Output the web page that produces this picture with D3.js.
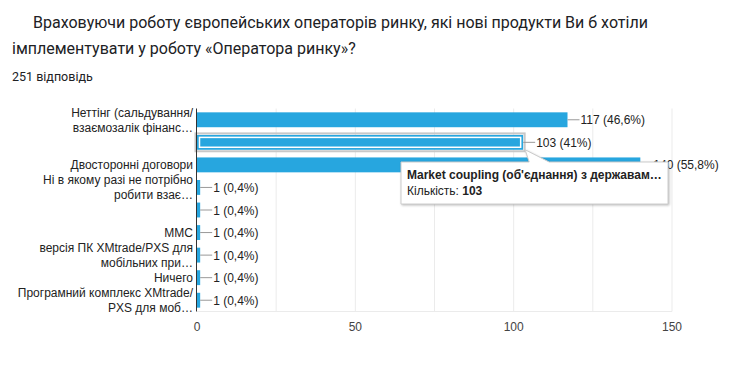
<!DOCTYPE html>
<html>
<head>
<meta charset="utf-8">
<script src="https://cdn.jsdelivr.net/npm/d3@7"></script>
<style>
  body { margin: 0; background: #fff; }
  svg { display: block; }
</style>
</head>
<body>
<div id="chart"></div>
<script>
const w = 750;
const h = 369;

// data
const categories = [
    "Неттінг (сальдування/взаємозалік фінансових зобов'язань)",
    "Market coupling (об'єднання) з державам…",
    "Двосторонні договори",
    "Ні в якому разі не потрібно робити взаємозалік",
    "",
    "MMC",
    "версія ПК XMtrade/PXS для мобільних пристроїв",
    "Ничего",
    "Програмний комплекс XMtrade/PXS для мобільних пристроїв"
];
// what the axis actually shows (google cuts long names, hides some)
const axisLabels = [
    ["Неттінг (сальдування/", "взаємозалік фінанс…"],
    [],
    ["Двосторонні договори"],
    ["Ні в якому разі не потрібно", "робити взає…"],
    [],
    ["MMC"],
    ["версія ПК XMtrade/PXS для", "мобільних при…"],
    ["Ничего"],
    ["Програмний комплекс XMtrade/", "PXS для моб…"]
];
const counts = [117, 103, 140, 1, 1, 1, 1, 1, 1];
const percents = ["46,6%", "41%", "55,8%", "0,4%", "0,4%", "0,4%", "0,4%", "0,4%", "0,4%"];
const xTicks = [0, 50, 100, 150];
const gridTicks = [0, 25, 50, 75, 100, 125, 150];
const totalAnswers = "251 відповідь";
const titleLines = [
    "Враховуючи роботу європейських операторів ринку, які нові продукти Ви б хотіли",
    "імплементувати у роботу «Оператора ринку»?"
];
const hovered = 1; // bar under the mouse in the screenshot

const barColor = "#27a6df";
const labelFont = "Arial, 'Liberation Sans', sans-serif";

const plot = { left: 197, right: 672, top: 108.5, bottom: 311.5 };

const svg = d3.select("#chart").append("svg")
    .attr("width", w)
    .attr("height", h);

// title
svg.append("text")
    .attr("x", 33).attr("y", 28)
    .style("font-family", "Roboto, sans-serif")
    .style("font-size", "16px")
    .style("fill", "#202124")
    .text(titleLines[0]);
svg.append("text")
    .attr("x", 12).attr("y", 54)
    .style("font-family", "Roboto, sans-serif")
    .style("font-size", "16px")
    .style("fill", "#202124")
    .text(titleLines[1]);
svg.append("text")
    .attr("x", 12).attr("y", 81)
    .style("font-family", "Roboto, sans-serif")
    .style("font-size", "12.5px")
    .style("fill", "#202124")
    .text(totalAnswers);

const x = d3.scaleLinear()
    .domain([0, 150])
    .range([plot.left, plot.right]);

const y = d3.scaleBand()
    .domain(d3.range(categories.length))
    .range([plot.top, plot.bottom])
    .paddingInner(0.34)
    .paddingOuter(0.17);

// gridlines
svg.append("g")
    .selectAll("line")
    .data(gridTicks.slice(1))
    .enter()
    .append("line")
    .attr("x1", d => x(d)).attr("x2", d => x(d))
    .attr("y1", plot.top).attr("y2", plot.bottom)
    .style("stroke", "#ebebeb")
    .style("stroke-width", 1);
svg.append("line")
    .attr("x1", plot.left).attr("x2", plot.right)
    .attr("y1", plot.bottom).attr("y2", plot.bottom)
    .style("stroke", "#ebebeb");

// x tick labels
svg.append("g")
    .selectAll("text")
    .data(xTicks)
    .enter()
    .append("text")
    .attr("x", d => x(d))
    .attr("y", 331)
    .attr("text-anchor", "middle")
    .style("font-family", labelFont)
    .style("font-size", "12px")
    .style("fill", "#444")
    .text(d => d);

// bars
svg.append("g")
    .selectAll("rect")
    .data(counts)
    .enter()
    .append("rect")
    .attr("x", x(0))
    .attr("y", (d, i) => y(i))
    .attr("width", d => x(d) - x(0))
    .attr("height", y.bandwidth())
    .style("fill", barColor);

// hover outline on the hovered bar
const hb = { x: x(0), y: y(hovered), w: x(counts[hovered]) - x(0), h: y.bandwidth() };
svg.append("rect")
    .attr("x", hb.x - 1.5).attr("y", hb.y - 1.5)
    .attr("width", hb.w + 3).attr("height", hb.h + 3)
    .style("fill", "none")
    .style("stroke", "#c8c8c8")
    .style("stroke-width", 2);
svg.append("rect")
    .attr("x", hb.x + 2.5).attr("y", hb.y + 2.5)
    .attr("width", hb.w - 5).attr("height", hb.h - 5)
    .style("fill", "none")
    .style("stroke", "#fff")
    .style("stroke-width", 1.5);

// axis line
svg.append("line")
    .attr("x1", plot.left - 0.5).attr("x2", plot.left - 0.5)
    .attr("y1", plot.top).attr("y2", plot.bottom)
    .style("stroke", "#333")
    .style("stroke-width", 1);

// value labels with leader lines
const valueG = svg.append("g");
counts.forEach((d, i) => {
    const cy = y(i) + y.bandwidth() / 2;
    valueG.append("line")
        .attr("x1", x(d)).attr("x2", x(d) + 12)
        .attr("y1", cy).attr("y2", cy)
        .style("stroke", "#999");
    valueG.append("text")
        .attr("x", x(d) + 13)
        .attr("y", cy + 4.5)
        .style("font-family", labelFont)
        .style("font-size", "12px")
        .style("fill", "#222")
        .text(d + " (" + percents[i] + ")");
});

// category labels
const catG = svg.append("g");
axisLabels.forEach((lines, i) => {
    const cy = y(i) + y.bandwidth() / 2;
    const lh = 15;
    const y0 = cy - (lines.length - 1) * lh / 2;
    lines.forEach((t, j) => {
        catG.append("text")
            .attr("x", 193)
            .attr("y", y0 + j * lh + 4.5)
            .attr("text-anchor", "end")
            .style("font-family", labelFont)
            .style("font-size", "12px")
            .style("fill", "#222")
            .text(t);
    });
});

// tooltip
const tip = { x: 401, y: 162, w: 267, h: 42 };
const tipPtr = { x: x(counts[hovered]) + 2, y: y(hovered) + y.bandwidth() };
const tipG = svg.append("g");
tipG.append("path")
    .attr("d", `M${tip.x},${tip.y} H${tipPtr.x + 4} L${tipPtr.x},${tipPtr.y} L${tipPtr.x + 24},${tip.y} H${tip.x + tip.w} V${tip.y + tip.h} H${tip.x} Z`)
    .style("fill", "#fff")
    .style("stroke", "#ccc")
    .style("stroke-width", 1)
    .style("filter", "drop-shadow(1px 1px 1px rgba(0,0,0,0.25))");
tipG.append("text")
    .attr("x", tip.x + 6)
    .attr("y", tip.y + 17)
    .style("font-family", labelFont)
    .style("font-size", "12px")
    .style("font-weight", "bold")
    .style("fill", "#222")
    .text(categories[hovered]);
const t2 = tipG.append("text")
    .attr("x", tip.x + 6)
    .attr("y", tip.y + 33)
    .style("font-family", labelFont)
    .style("font-size", "12px")
    .style("fill", "#222");
t2.append("tspan").text("Кількість: ");
t2.append("tspan").style("font-weight", "bold").text(counts[hovered]);
</script>
</body>
</html>
